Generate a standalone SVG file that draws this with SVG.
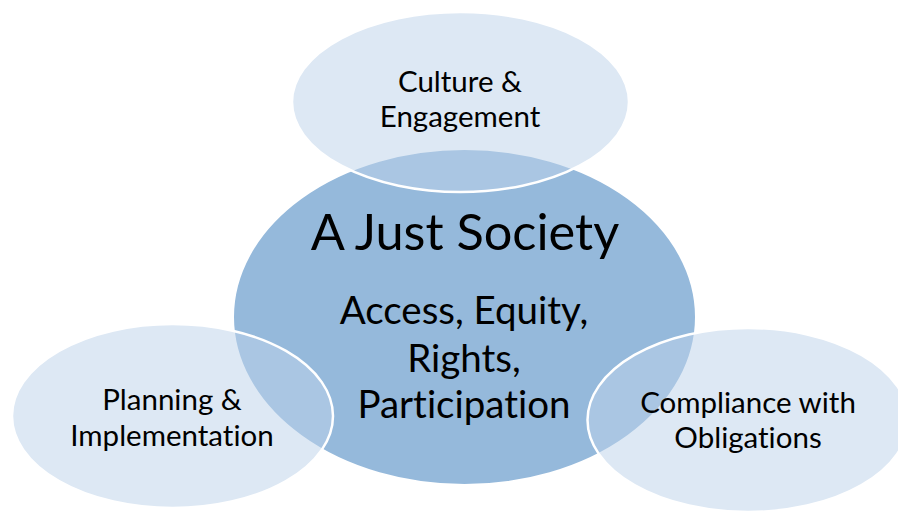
<svg xmlns="http://www.w3.org/2000/svg" width="898" height="511" viewBox="0 0 898 511">
<style>
.core{fill:#95B9DB;stroke:#FFFFFF;stroke-width:2}
.sat{fill:#BED3EA;fill-opacity:0.52;stroke:#FFFFFF;stroke-width:2.5}
text{font-family:Lato,"Open Sans","Liberation Sans",sans-serif;fill:#000000;text-anchor:middle;font-variant-ligatures:none;font-feature-settings:"liga" 0}
.small{font-size:29.5px}
.title{font-size:50.5px}
.sub{font-size:38.5px}
</style>
<rect width="898" height="511" fill="#FFFFFF"/>
<g id="center">
<ellipse class="core" cx="464.5" cy="317" rx="231.5" ry="168"/>
</g>
<g id="top">
<ellipse class="sat" cx="460.5" cy="102" rx="168.5" ry="90"/>
</g>
<g id="left">
<ellipse class="sat" cx="172.5" cy="416" rx="160.5" ry="92"/>
</g>
<g id="right">
<ellipse class="sat" cx="748" cy="420" rx="160.5" ry="92"/>
</g>
<g id="labels">
<text class="title" x="465" y="250">A Just Society</text>
<text class="sub" x="464" y="324">Access, Equity,</text>
<text class="sub" x="464" y="372">Rights,</text>
<text class="sub" x="464" y="418">Participation</text>
<text class="small" x="460" y="92">Culture &amp;</text>
<text class="small" x="460" y="127">Engagement</text>
<text class="small" x="172" y="410">Planning &amp;</text>
<text class="small" x="172" y="446">Implementation</text>
<text class="small" x="748" y="413">Compliance with</text>
<text class="small" x="748" y="448">Obligations</text>
</g>
<g id="connectors"/>
</svg>
